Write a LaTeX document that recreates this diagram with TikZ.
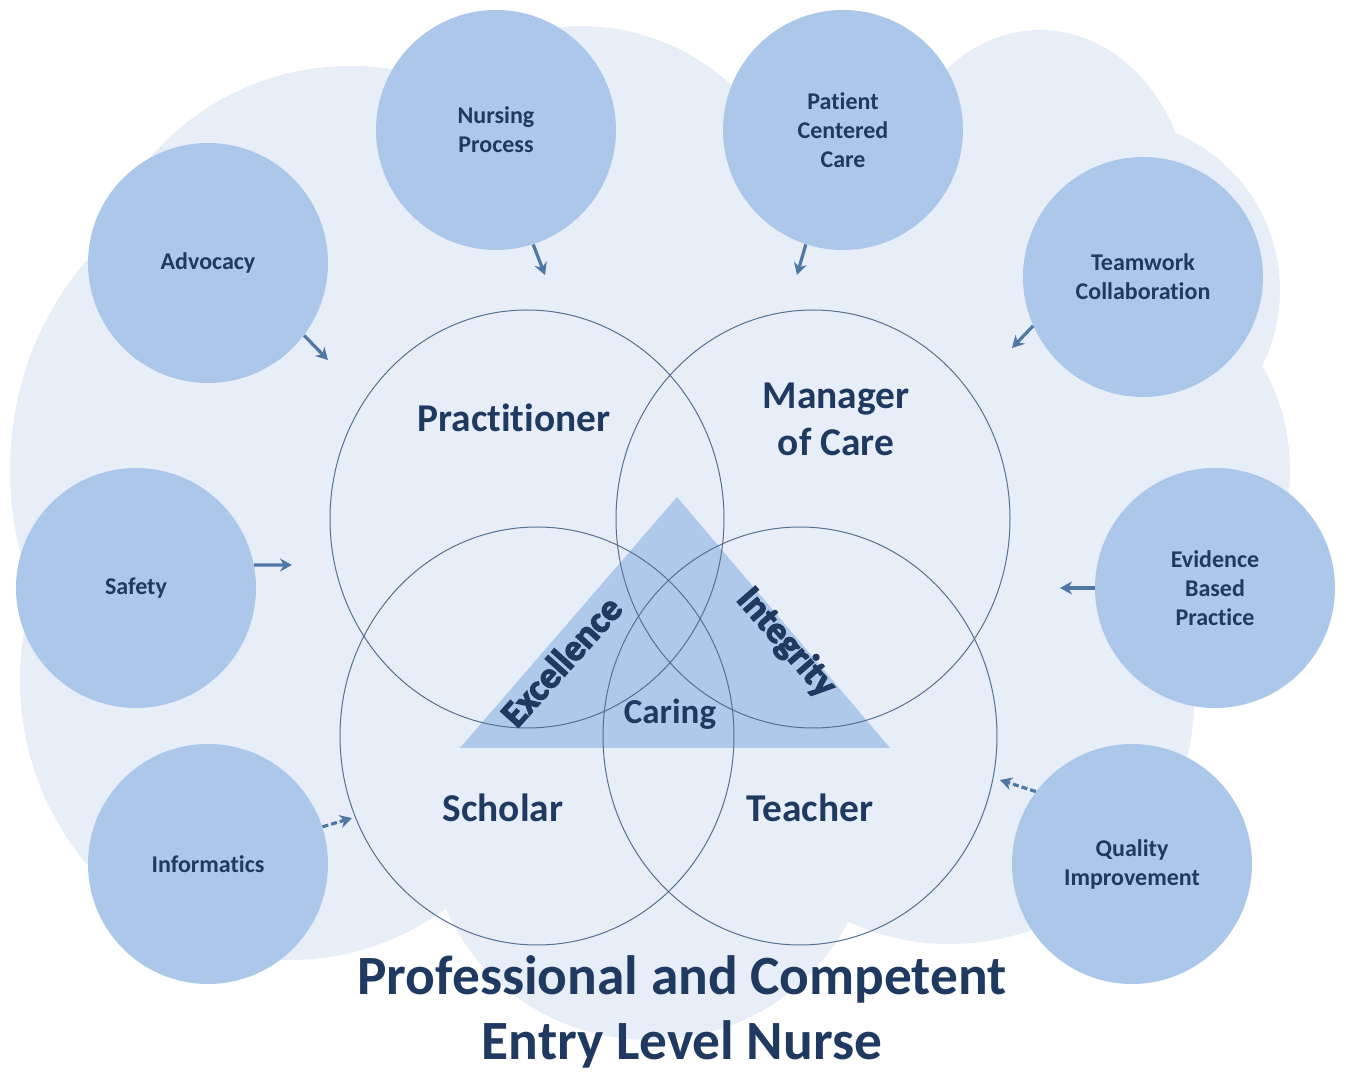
\documentclass[tikz,border=0pt]{standalone}
\usepackage{fontspec}
\setmainfont{Carlito}[Ligatures=NoCommon]
\newfontfamily\heavyfont{Carlito}[UprightFont={* Bold},FakeBold=3.5,Ligatures=NoCommon]
\usetikzlibrary{arrows.meta,shapes.geometric}
\definecolor{cloudc}{HTML}{E8EEF7}
\definecolor{bubblec}{HTML}{ABC7EA}
\definecolor{navyc}{HTML}{1F3961}
\definecolor{ringc}{HTML}{56708F}
\definecolor{tric}{HTML}{AFC9EB}
\definecolor{arrowc}{HTML}{4F77A3}
\begin{document}
\begin{tikzpicture}[x=0.5pt,y=-0.5pt,
  bubble/.style={circle,fill=bubblec,minimum size=120pt,inner sep=0pt,align=center,
    text=navyc,font=\fontsize{12}{14.5}\selectfont\bfseries},
  ring/.style={ellipse,draw=ringc,line width=0.5pt,minimum width=197pt,minimum height=209pt,inner sep=0pt},
  biglabel/.style={text=navyc,font=\fontsize{19.7}{23.5}\selectfont\bfseries,align=center},
  sidelabel/.style={text=navyc,font=\heavyfont\fontsize{18.6}{22}\selectfont},
  link/.style={draw=arrowc,line width=1.6pt,-{Stealth[length=6pt,width=6.5pt]}},
  dlink/.style={link,dash pattern=on 3pt off 1.5pt}
]
\useasboundingbox (0,0) rectangle (1346,1074);
% cloud background
\begin{scope}[fill=cloudc]
\fill (350,330) circle [radius=132pt];
\fill (580,250) circle [radius=112pt];
\fill (1040,210) ellipse [x radius=75pt, y radius=90pt];
\fill (1110,290) circle [radius=85pt];
\fill (1080,470) circle [radius=105pt];
\fill (280,470) ellipse [x radius=135pt, y radius=150pt];
\fill (290,680) ellipse [x radius=135pt, y radius=140pt];
\fill (950,700) circle [radius=122pt];
\fill (670,520) circle [radius=210pt];
\fill (650,830) ellipse [x radius=110pt, y radius=105pt];
\end{scope}
% outer concept circles
\node[bubble] (np)  at (496,130) {Nursing\\Process};
\node[bubble] (pcc) at (843,130) {Patient\\Centered\\Care};
\node[bubble] (adv) at (208,263) {Advocacy};
\node[bubble] (tw)  at (1143,277) {Teamwork\\Collaboration};
\node[bubble] (saf) at (136,588) {Safety};
\node[bubble] (ebp) at (1215,588) {Evidence\\Based\\Practice};
\node[bubble] (inf) at (208,864) {Informatics};
\node[bubble] (qi)  at (1132,864) {Quality\\Improvement};
% triangle
\fill[tric] (677,497) -- (460,748) -- (890,748) -- cycle;
% venn rings
\node[ring] (prac) at (527,519) {};
\node[ring] (mgr)  at (813,519) {};
\node[ring] (sch)  at (537,736) {};
\node[ring] (tea)  at (800,736) {};
% labels
\node[biglabel] (lprac) at (514,418) {Practitioner};
\node[biglabel] (lmgr)  at (836,419) {Manager\\of Care};
\node[biglabel] (lsch)  at (503,808) {Scholar};
\node[biglabel] (ltea)  at (810,808) {Teacher};
\node[biglabel,font=\fontsize{17.5}{20}\selectfont\bfseries] (lcar) at (670,714) {Caring};
\node[sidelabel,rotate=48] (lexc) at (561,661) {Excellence};
\node[sidelabel,rotate=-49] (lint) at (786,643) {Integrity};
\node[text=navyc,font=\fontsize{27.7}{32.5}\selectfont\bfseries,align=center] (title) at (682,1012)
  {Professional and Competent\\Entry Level Nurse};
% arrow targets
\coordinate (npe)  at (545,275);
\coordinate (pcce) at (797,275);
\coordinate (adve) at (328,360);
\coordinate (twe)  at (1012,348);
\coordinate (safe) at (292,565);
\coordinate (ebpe) at (1060,588);
\coordinate (infe) at (352,818);
\coordinate (qie)  at (1000,780);
\draw[link] (np.-72.6) -- (npe);
\draw[link] (pcc.-108.3) -- (pcce);
\draw[link] (adv.-37.5) -- (adve);
\draw[link] (tw.204.4) -- (twe);
\draw[link] (saf.11) -- (safe);
\draw[link] (ebp.180) -- (ebpe);
\draw[dlink] (inf.18.6) -- (infe);
\draw[dlink] (qi.143) -- (qie);
\end{tikzpicture}
\end{document}
